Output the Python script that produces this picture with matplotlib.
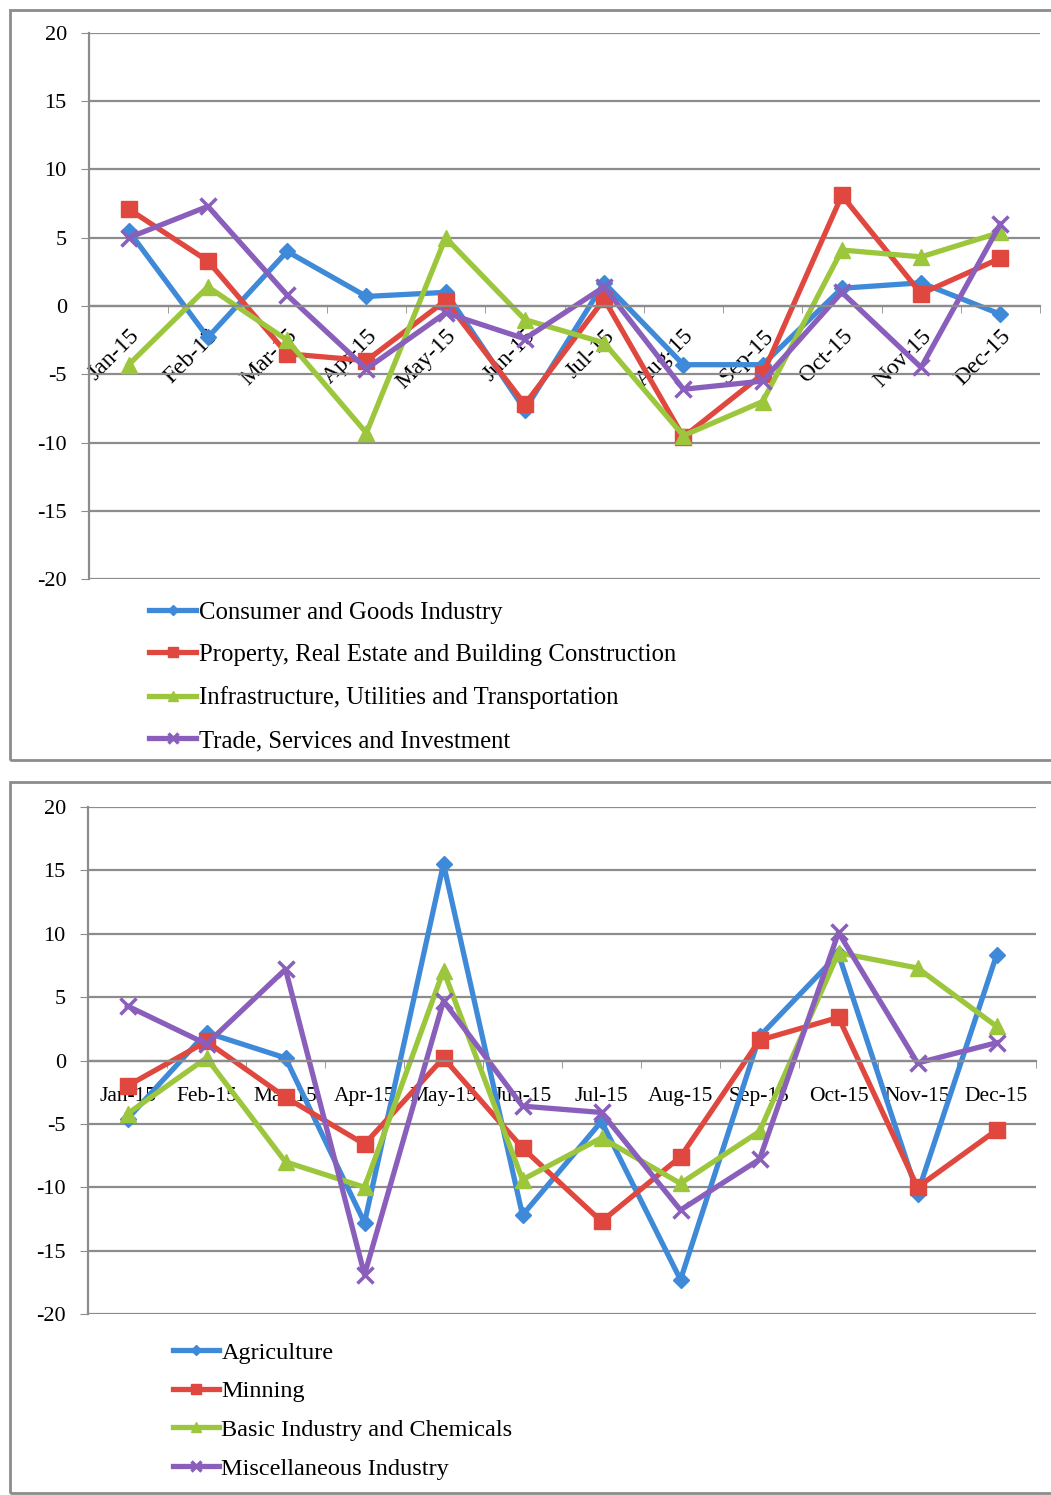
'''
Monthly sector index changes for 2015, two panels
'''

import matplotlib.pyplot as plt
from matplotlib.patches import Rectangle

plt.rcParams['font.family'] = ['Liberation Serif', 'DejaVu Serif']
plt.rcParams['axes.unicode_minus'] = False

months = ['Jan-15', 'Feb-15', 'Mar-15', 'Apr-15', 'May-15', 'Jun-15',
          'Jul-15', 'Aug-15', 'Sep-15', 'Oct-15', 'Nov-15', 'Dec-15']

# top panel
consumer = [5.5, -2.3, 4.0, 0.7, 1.0, -7.6, 1.7, -4.3, -4.3, 1.3, 1.7, -0.6]
property_ = [7.1, 3.3, -3.5, -4.0, 0.4, -7.2, 0.5, -9.6, -5.0, 8.1, 0.9, 3.5]
infra = [-4.3, 1.4, -2.5, -9.3, 5.0, -1.0, -2.7, -9.5, -7.0, 4.1, 3.6, 5.4]
trade = [5.0, 7.3, 0.8, -4.6, -0.5, -2.4, 1.4, -6.1, -5.5, 1.0, -4.5, 6.0]

# bottom panel
agriculture = [-4.6, 2.2, 0.2, -12.8, 15.5, -12.2, -4.8, -17.3, 1.9, 8.4, -10.5, 8.3]
mining = [-2.0, 1.5, -2.9, -6.6, 0.2, -6.9, -12.7, -7.6, 1.6, 3.4, -10.0, -5.5]
basic = [-4.2, 0.2, -8.0, -10.0, 7.1, -9.4, -6.1, -9.7, -5.6, 8.5, 7.3, 2.7]
misc = [4.3, 1.3, 7.2, -16.9, 4.7, -3.6, -4.1, -11.8, -7.8, 10.1, -0.2, 1.4]

top_labels = ['Consumer and Goods Industry',
              'Property, Real Estate and Building Construction',
              'Infrastructure, Utilities and Transportation',
              'Trade, Services and Investment']
bottom_labels = ['Agriculture', 'Minning', 'Basic Industry and Chemicals',
                 'Miscellaneous Industry']

colors = ['#3f8ad8', '#e0473f', '#9cc63c', '#8a5fbc']
markers = ['D', 's', '^', 'x']
msizes = [8, 11, 11, 11]


def style_axes(ax, rotate):
    ax.set_xlim(-0.5, 11.5)
    ax.set_ylim(-20, 20)
    ax.set_yticks(range(-20, 21, 5))
    ax.yaxis.grid(True, color='#8c8c8c', linewidth=1.6)
    ax.set_axisbelow(True)
    for side in ['top', 'right']:
        ax.spines[side].set_visible(False)
    ax.spines['left'].set_color('#8c8c8c')
    ax.spines['left'].set_linewidth(1.6)
    ax.spines['bottom'].set_position(('data', 0))
    ax.spines['bottom'].set_color('#8c8c8c')
    ax.spines['bottom'].set_linewidth(1.6)
    ax.tick_params(axis='y', length=6, color='#8c8c8c', labelsize=16, pad=10)
    ax.set_xticks(range(12))
    ax.set_xticks([i + 0.5 for i in range(-1, 12)], minor=True)
    ax.tick_params(axis='x', which='minor', length=5, color='#8c8c8c',
                   direction='out')
    if rotate:
        ax.set_xticklabels(months, rotation=45, ha='right',
                           rotation_mode='anchor')
        ax.tick_params(axis='x', which='major', length=0, labelsize=17,
                       pad=14)
    else:
        ax.set_xticklabels(months)
        ax.tick_params(axis='x', which='major', length=0, labelsize=15.5,
                       pad=19)


def plot_panel(ax, series, labels):
    x = range(12)
    for values, label, color, marker, ms in zip(series, labels, colors,
                                                markers, msizes):
        ax.plot(x, values, color=color, linewidth=3.8, marker=marker,
                markersize=ms, markeredgewidth=2.5 if marker == 'x' else 1,
                markeredgecolor=color, label=label)


fig = plt.figure(figsize=(10.51, 14.95), dpi=100)

fig.patches.append(Rectangle((10 / 1051, 1 - 760 / 1495), 1.1, 750 / 1495,
                             transform=fig.transFigure, fill=False,
                             edgecolor='#8c8c8c', linewidth=2))
fig.patches.append(Rectangle((10 / 1051, 1 - 1493 / 1495), 1.1, 711 / 1495,
                             transform=fig.transFigure, fill=False,
                             edgecolor='#8c8c8c', linewidth=2))

ax1 = fig.add_axes([89 / 1051, 1 - 579 / 1495, 951 / 1051, 546 / 1495])
plot_panel(ax1, [consumer, property_, infra, trade], top_labels)
style_axes(ax1, True)
ax1.legend(loc='upper left', bbox_to_anchor=(127 / 1051, 1 - 579 / 1495),
           bbox_transform=fig.transFigure, frameon=False, fontsize=17.8,
           handlelength=1.9, handletextpad=0.1, labelspacing=0.82,
           markerscale=0.6)

ax2 = fig.add_axes([88 / 1051, 1 - 1314 / 1495, 948 / 1051, 507 / 1495])
plot_panel(ax2, [agriculture, mining, basic, misc], bottom_labels)
style_axes(ax2, False)
ax2.legend(loc='upper left', bbox_to_anchor=(151 / 1051, 1 - 1320 / 1495),
           bbox_transform=fig.transFigure, frameon=False, fontsize=17.5,
           handlelength=1.9, handletextpad=0.1, labelspacing=0.68,
           markerscale=0.6)

fig.savefig('out.png', dpi=100)
